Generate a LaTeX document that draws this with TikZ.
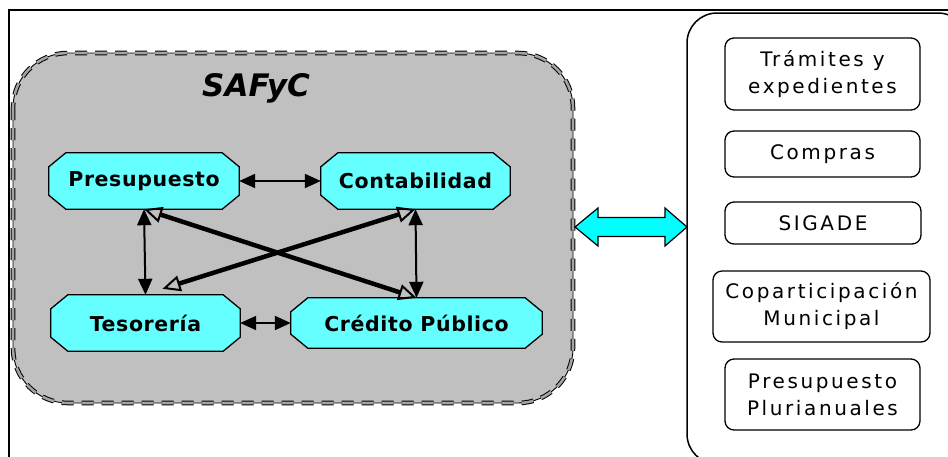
\documentclass[tikz,border=0pt]{standalone}
\usepackage{fontspec}
\setmainfont{DejaVu Sans}
\newfontfamily\rfont[LetterSpace=13]{DejaVu Sans}
\newfontfamily\bfontfam[LetterSpace=3]{DejaVu Sans}
\usetikzlibrary{arrows.meta}
\pgfdeclarelayer{bg}
\pgfsetlayers{bg,main}
\definecolor{safgray}{RGB}{192,192,192}
\definecolor{octcyan}{RGB}{102,255,255}
\definecolor{arrcyan}{RGB}{0,255,255}
\newcommand\octo[1]{\filldraw[octstyle] ([xshift=17pt]#1.north west) -- ([xshift=-17pt]#1.north east) -- ([yshift=-14pt]#1.north east) -- ([yshift=14pt]#1.south east) -- ([xshift=-17pt]#1.south east) -- ([xshift=17pt]#1.south west) -- ([yshift=14pt]#1.south west) -- ([yshift=-14pt]#1.north west) -- cycle;}
\tikzset{
  octstyle/.style={fill=octcyan, draw=black, line width=1.3pt, line join=miter},
  octnode/.style={inner sep=0pt, minimum height=56pt, font=\bfontfam\bfseries\fontsize{20.5}{24}\selectfont},
  rbox/.style={draw, line width=1.3pt, rounded corners=9pt, inner sep=0pt, minimum width=195pt, align=center, font=\rfont\fontsize{20}{27}\selectfont},
  thinarr/.style={line width=2pt, {Triangle[length=16pt,width=14pt]}-{Triangle[length=16pt,width=14pt]}},
  thickarr/.style={line width=4.5pt, {Triangle[open,length=18pt,width=16pt,line width=2pt]}-{Triangle[open,length=18pt,width=16pt,line width=2pt]}}
}
\begin{document}
\begin{tikzpicture}[x=1pt,y=-1pt]
\useasboundingbox (0,0) rectangle (948,456);
\clip (0,0) rectangle (948,456);
\begin{pgfonlayer}{bg}
\fill[white] (0,0) rectangle (948,456);
% gray SAFyC area
\fill[safgray, rounded corners=55pt] (13,53) rectangle (573,403);
\draw[line width=0.9pt, rounded corners=55pt] (13,53) rectangle (573,403);
\draw[line width=1pt, double=safgray!85!black, double distance=2.6pt, dash pattern=on 12pt off 8pt, rounded corners=55pt] (13,53) rectangle (573,403);
\end{pgfonlayer}
% outer frame (clipped on right and bottom)
\draw[line width=2pt] (9,480) -- (9,10) -- (980,10);
% right container
\draw[line width=1.5pt, rounded corners=30pt] (687,13) rectangle (968,464);
\node[font=\bfseries\itshape\fontsize{31}{36}\selectfont] (title) at (256,88) {SAFyC};
% module nodes
\node[octnode, minimum width=190pt] (P) at (144,181) {Presupuesto};
\node[octnode, minimum width=189pt] (C) at (415.5,181) {Contabilidad};
\node[octnode, minimum width=189pt] (T) at (145.5,323) {Tesorería};
\node[octnode, minimum width=251pt, minimum height=50pt] (CP) at (416.5,323) {Crédito Público};
\begin{pgfonlayer}{bg}
\octo{P}\octo{C}\octo{T}\octo{CP}
\end{pgfonlayer}
% connectors
\draw[thinarr] (P.east) -- (C.west);
\draw[thinarr] (T.east) -- (CP.west);
\draw[thinarr] (P.south) -- (T.north);
\draw[thinarr] (C.south) -- (CP.north);
\draw[thickarr] (P.south) -- (CP.north);
\draw[thickarr] (C.south) -- ([xshift=17pt,yshift=6pt]T.north);
% big cyan double arrow
\filldraw[fill=arrcyan, draw=black, line width=1.2pt, line join=miter]
  (575,227) -- (598,208) -- (598,217.5) -- (665,217.5) -- (665,208) -- (687,227)
  -- (665,246) -- (665,236.5) -- (598,236.5) -- (598,246) -- cycle;
% right-side boxes
\node[rbox, minimum height=72pt] (tram) at (822.5,74) {Trámites y\\expedientes};
\node[rbox, minimum height=46pt] (comp) at (822.5,154) {Compras};
\node[rbox, minimum height=42pt, minimum width=196pt] (sig) at (823,223) {SIGADE};
\node[rbox, minimum height=71pt, minimum width=217pt] (copa) at (821.5,306.5) {Coparticipación\\Municipal};
\node[rbox, minimum height=71pt] (plur) at (822.5,394.5) {Presupuesto\\Plurianuales};
\end{tikzpicture}
\end{document}
